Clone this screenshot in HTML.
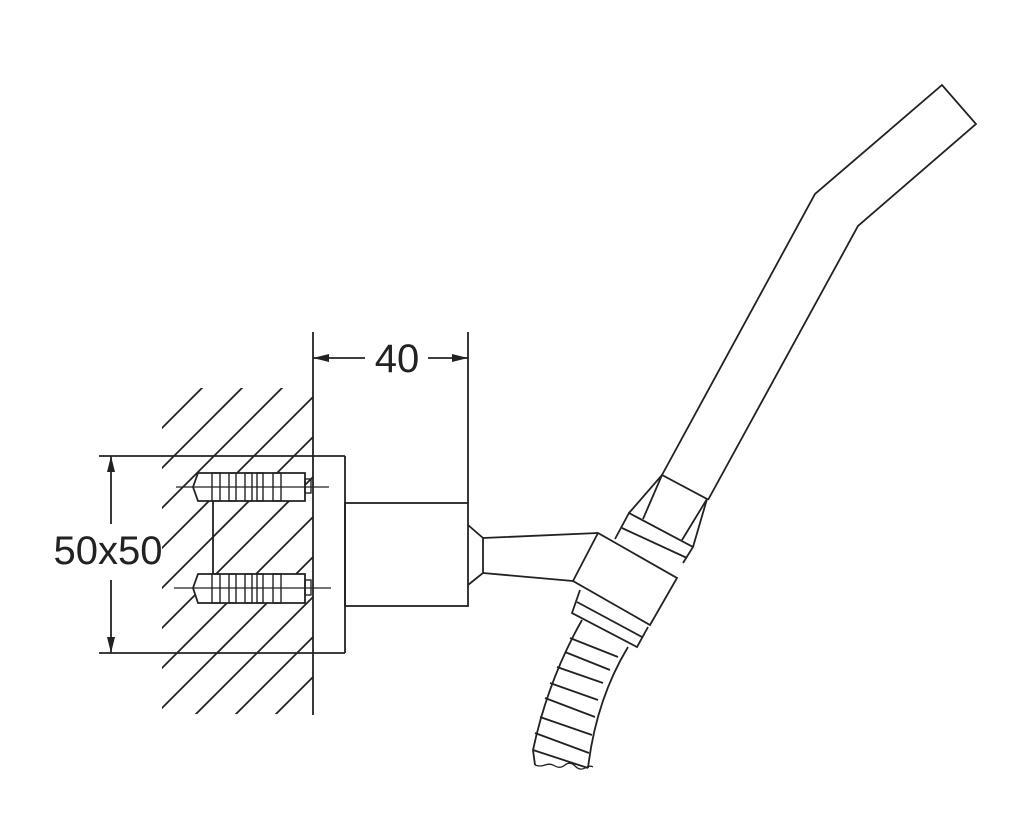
<!DOCTYPE html>
<html><head><style>
html,body{margin:0;padding:0;background:#fff;width:1024px;height:824px;overflow:hidden;}
svg{display:block;}
text{font-family:"Liberation Sans",sans-serif;fill:#222;}
</style></head><body>
<svg width="1024" height="824" viewBox="0 0 1024 824" xmlns="http://www.w3.org/2000/svg">
<defs>
<clipPath id="hc"><rect x="162" y="388" width="151" height="326"/></clipPath>
</defs>
<g stroke="#222" stroke-width="1.8" fill="none">
<g clip-path="url(#hc)">
<line x1="100" y1="490" x2="400" y2="190"/>
<line x1="100" y1="530" x2="430" y2="200"/>
<line x1="100" y1="570" x2="470" y2="200"/>
<line x1="100" y1="610" x2="510" y2="200"/>
<line x1="100" y1="650" x2="550" y2="200"/>
<line x1="100" y1="690" x2="590" y2="200"/>
<line x1="100" y1="730" x2="630" y2="200"/>
<line x1="100" y1="770" x2="670" y2="200"/>
<line x1="100" y1="810" x2="710" y2="200"/>
<line x1="100" y1="850" x2="750" y2="200"/>
<line x1="100" y1="890" x2="790" y2="200"/>
<line x1="100" y1="930" x2="830" y2="200"/>
<line x1="100" y1="970" x2="870" y2="200"/>
<line x1="100" y1="1010" x2="910" y2="200"/>
</g>
<line x1="313" y1="332" x2="313" y2="715"/>
<line x1="468" y1="332" x2="468" y2="503"/>
<line x1="313" y1="358" x2="365" y2="358"/>
<line x1="428" y1="358" x2="468" y2="358"/>
<line x1="99" y1="456" x2="345" y2="456"/>
<line x1="99" y1="653" x2="345" y2="653"/>
<line x1="345" y1="456" x2="345" y2="653"/>
<line x1="111" y1="456" x2="111" y2="524"/>
<line x1="111" y1="580" x2="111" y2="653"/>
<line x1="213" y1="500" x2="213" y2="575"/>
<g fill="#fff">
<path d="M198,473 L305,473 L305,501 L198,501 L193,487 Z"/>
<path d="M198,574 L305,574 L305,603 L198,603 L193,588 Z"/>
</g>
<g stroke-width="1.4">
<rect x="212" y="473" width="8" height="28"/><rect x="229" y="473" width="7" height="28"/><rect x="245" y="473" width="7" height="28"/><rect x="257" y="473" width="6" height="28"/><rect x="273" y="473" width="8" height="28"/>
<rect x="212" y="574" width="8" height="29"/><rect x="229" y="574" width="7" height="29"/><rect x="245" y="574" width="7" height="29"/><rect x="257" y="574" width="6" height="29"/><rect x="273" y="574" width="8" height="29"/>
<rect x="305" y="479" width="6" height="14"/><rect x="305" y="580" width="6" height="15"/>
</g>
<line x1="176" y1="487" x2="329" y2="487" stroke-width="1.2"/>
<line x1="174" y1="588" x2="331" y2="588" stroke-width="1.2"/>
<rect x="345" y="503" width="123" height="103"/>
<path d="M468,525 L483,538 L483,573 L468,585"/>
<path d="M483,538 L598,533 M483,573 L573,581"/>
<path d="M598,533 L573,581 L650,625 L677,578 Z"/>
<path d="M615,539 L629,513 L693,547 L683,563"/>
<path d="M622,528 L687,558"/>
<path d="M629,513 L662,475 L707,499 L693,547"/>
<path d="M643,519 L662,475 M682,540 L707,499"/>
<path d="M580,590 L572,613 L637,647 L648,627"/>
<path d="M577,602 L642,637"/>
<path d="M662,475 L815,194 L942,85 L976,124 L858,226 L708,500"/>
<path d="M582,620 Q548,680 533,750 L535,765"/>
<path d="M628,647 Q596,700 588,768"/>
<path d="M535,765 q5,2 10,0 t10,1 t10,-1 t10,1 t10,2 t8,-1" stroke-width="1.3"/>
<path d="M570,638 L618,657 M565,652 L610,670 M557,667 L603,683 M550,683 L598,700 M545,698 L595,717 M540,717 L592,735 M535,733 L589,753 M533,750 L588,768"/>
</g>
<g fill="#222">
<path d="M313,358 L329,354 L329,362 Z"/>
<path d="M468,358 L452,354 L452,362 Z"/>
<path d="M111,456 L107,472 L115,472 Z"/>
<path d="M111,653 L107,637 L115,637 Z"/>
</g>
<text x="397" y="372" font-size="40" text-anchor="middle">40</text>
<text x="108" y="564" font-size="40" text-anchor="middle">50x50</text>
</svg>
</body></html>
